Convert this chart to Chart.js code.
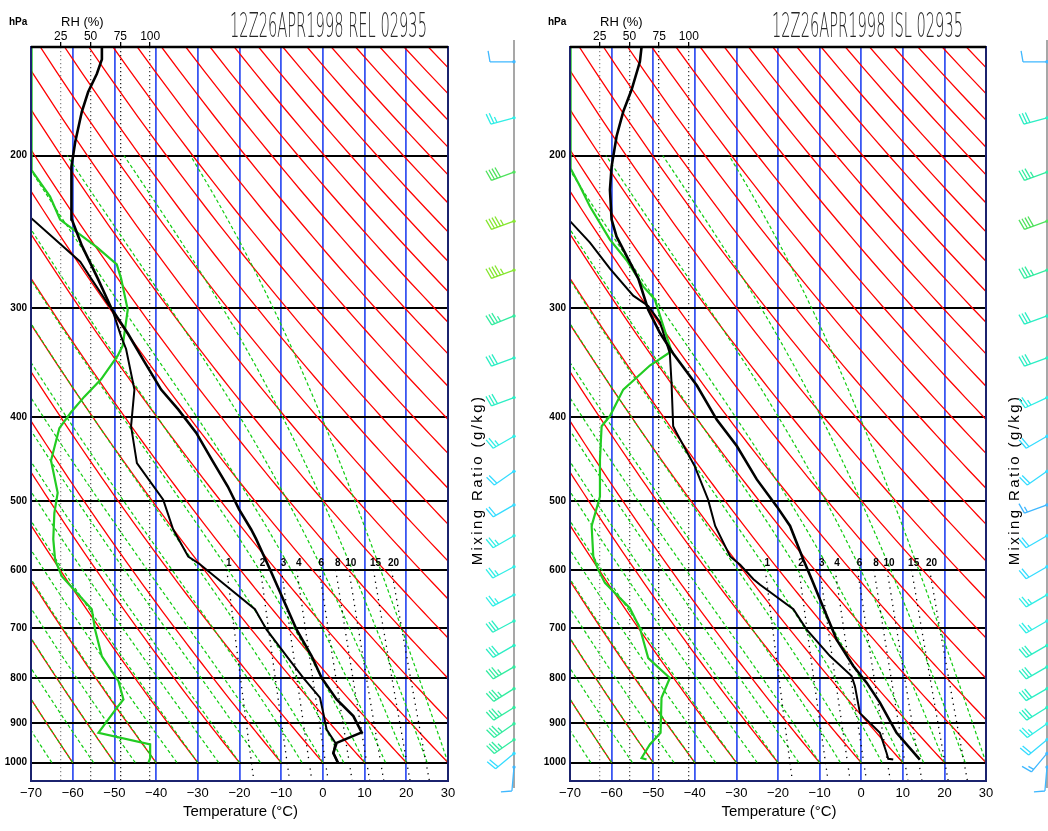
<!DOCTYPE html>
<html>
<head>
<meta charset="utf-8">
<script src="https://cdn.jsdelivr.net/npm/chart.js@4.4.1/dist/chart.umd.min.js"></script>
<style>
html, body { margin: 0; padding: 0; background: #fff; overflow: hidden; }
canvas { position: absolute; top: 0; }
#rel { left: 0; }
#isl { left: 524px; }
</style>
</head>
<body>
<canvas id="rel" width="524" height="831"></canvas>
<canvas id="isl" width="524" height="831"></canvas>
<script>
// axes
const tempTicks = [-70, -60, -50, -40, -30, -20, -10, 0, 10, 20, 30];
const pLevels = [1000, 900, 800, 700, 600, 500, 400, 300, 200];
const rhTicks = [25, 50, 75, 100];

// background line families
const dryThetaC = [-60, -50, -40, -30, -20, -10, 0, 10, 20, 30, 40, 50, 60, 70, 80, 90, 100, 110, 120, 130, 140, 150, 160, 170, 180, 190, 200, 210, 220, 230, 240];
const moistThetaW = [-65, -60, -55, -50, -45, -40, -35, -30, -25, -20, -15, -10, -5, 0, 5, 10, 15, 20, 25, 30];
const mixRatios = [1, 2, 3, 4, 6, 8, 10, 15, 20];

// REL sounding
const relTempP = [1000, 975, 949, 923, 884, 846, 799, 754, 703, 649, 599, 553, 539, 511, 481, 450, 417, 392, 372, 345, 321, 300, 277, 254, 237, 221, 206, 193, 178, 169, 161, 155, 150];
const relTemp = [3.6, 2.5, 3.3, 9.3, 7.3, 3.3, -0.3, -2.7, -6.3, -9.5, -12.7, -16.0, -17.2, -20.1, -22.8, -26.4, -30.4, -34.7, -38.8, -42.9, -46.7, -50.7, -54.0, -57.8, -60.2, -60.4, -60.2, -59.4, -57.8, -56.3, -54.2, -53.0, -53.0];
const relDewP = [1000, 975, 949, 916, 877, 842, 799, 754, 703, 666, 624, 591, 579, 539, 498, 452, 410, 372, 334, 323, 302, 277, 265, 236];
const relDew = [3.6, 2.5, 3.0, 0.9, 0.1, -0.7, -4.7, -8.7, -13.5, -16.3, -23.5, -29.5, -32.3, -35.9, -38.3, -44.6, -46.0, -45.2, -47.2, -48.4, -50.4, -55.6, -58.2, -70.0];
const relRhP = [1000, 988, 953, 924, 865, 846, 806, 754, 703, 666, 610, 584, 553, 516, 489, 449, 412, 395, 379, 362, 340, 331, 301, 277, 267, 255, 237, 223, 208, 150];
const relRh = [98.6, 100, 100, 56.6, 72, 77.6, 73.4, 59.4, 53.8, 51, 25.8, 20.2, 18.7, 19.6, 22.4, 16.8, 23.8, 33.6, 44.8, 58.8, 72.8, 77, 81.2, 75.6, 72, 55.2, 24.4, 16, 0.6, 0.5];

// ISL sounding
const islTempP = [992, 924, 853, 809, 774, 722, 649, 615, 584, 534, 507, 472, 432, 403, 368, 338, 320, 301, 277, 261, 248, 237, 219, 206, 190, 178, 168, 156, 150];
const islTemp = [14.1, 8.5, 4.5, 1.3, -1.9, -5.9, -9.9, -11.9, -13.9, -17.1, -20.3, -25.1, -29.9, -34.7, -39.5, -45.2, -48.4, -51.2, -53.6, -56.4, -58.8, -60.0, -60.4, -60.0, -58.8, -57.2, -55.2, -53.2, -52.8];
const islDewP = [992, 990, 975, 924, 877, 817, 795, 754, 703, 666, 624, 615, 592, 579, 534, 498, 456, 417, 410, 365, 338, 311, 298, 290, 270, 252, 238];
const islDew = [7.7, 6.5, 6.1, 4.5, -0.3, -1.5, -2.3, -7.5, -13.1, -16.3, -24.3, -25.9, -29.1, -31.5, -35.1, -36.8, -40.0, -44.4, -45.2, -45.6, -46.0, -48.4, -51.2, -54.8, -60.4, -65.2, -70.0];
const islRhP = [992, 988, 953, 924, 842, 799, 758, 700, 664, 621, 600, 579, 534, 494, 448, 410, 399, 372, 349, 336, 314, 293, 283, 264, 250, 229, 217, 207, 150];
const islRh = [64.4, 60.2, 67.2, 76.2, 77, 84, 65.8, 58.8, 50.4, 29.4, 23.8, 19.6, 18.2, 25.2, 25.2, 26.6, 33.6, 44.8, 67.2, 85.4, 78.4, 71.4, 61.6, 47.6, 33.6, 16.8, 8.4, 0.5, 0.5];

// winds (same levels for both)
const windP = [156, 181, 209, 238, 271, 306, 342, 380, 421, 462, 505, 548, 595, 641, 687, 733, 776, 822, 864, 902, 941, 976, 1012];
const relWindDir = [270, 255, 250, 250, 250, 248, 250, 250, 240, 235, 240, 240, 242, 242, 242, 240, 240, 238, 238, 235, 235, 230, 185];
const relWindKt = [10, 25, 40, 45, 45, 35, 30, 30, 25, 20, 20, 25, 25, 25, 30, 30, 35, 35, 35, 35, 35, 20, 10];
const islWindDir = [270, 255, 250, 250, 250, 250, 250, 245, 240, 235, 250, 240, 240, 240, 240, 240, 240, 240, 238, 235, 230, 220, 185];
const islWindKt = [10, 30, 35, 40, 35, 30, 30, 25, 20, 20, 15, 20, 20, 25, 25, 30, 30, 30, 30, 25, 20, 15, 10];

const FONT = '"Liberation Sans", Arial, sans-serif';
Chart.defaults.font.family = FONT;
const RH_MAX = 350;

function pts(ps, vs) {
    return ps.map((p, i) => ({ x: vs[i], y: p }));
}
function es(tc) {
    return 6.112 * Math.exp(17.67 * tc / (tc + 243.5));
}
function dryLine(thC) {
    const out = [];
    for (let p = 1000; p >= 150; p -= 10) {
        out.push({ x: (thC + 273.15) * Math.pow(p / 1000, 0.2857) - 273.15, y: p });
    }
    return out;
}
function moistLine(twC) {
    const Rd = 287.04, Cp = 1005.7, Lv = 2.501e6, eps = 0.622;
    const slope = (p, T) => {
        const e = es(T - 273.15);
        const rs = eps * e / (p - e);
        return (Rd * T + Lv * rs) / (p * (Cp + Lv * Lv * rs * eps / (Rd * T * T)));
    };
    let T = twC + 273.15;
    const out = [{ x: twC, y: 1000 }];
    const h = -2;
    for (let p = 1000; p > 200; p += h) {
        const k1 = slope(p, T);
        const k2 = slope(p + h / 2, T + h / 2 * k1);
        const k3 = slope(p + h / 2, T + h / 2 * k2);
        const k4 = slope(p + h, T + h * k3);
        T += h / 6 * (k1 + 2 * k2 + 2 * k3 + k4);
        if ((p + h) % 10 === 0) out.push({ x: T - 273.15, y: p + h });
    }
    return out;
}
function mixT(w, p) {
    const l = Math.log(w * p / (622 + w) / 6.112);
    return 243.5 * l / (17.67 - l);
}
function mixLine(w) {
    const out = [];
    for (let p = 600; p <= 1050; p += 25) out.push({ x: mixT(w, p), y: p });
    return out;
}
function barbColor(kt) {
    if (kt <= 15) return '#3fb8ff';
    if (kt <= 22) return '#35dcff';
    if (kt <= 27) return '#30eee6';
    if (kt <= 32) return '#2ceec4';
    if (kt <= 37) return '#33eca0';
    if (kt <= 42) return '#4ee25c';
    return '#86e630';
}
function drawBarb(ctx, x, y, dir, kt) {
    const r = dir * Math.PI / 180;
    const ux = Math.sin(r), uy = -Math.cos(r);
    const L = 24;
    const tx = x + ux * L, ty = y + uy * L;
    const a = 80 * Math.PI / 180;
    const fx = ux * Math.cos(a) - uy * Math.sin(a);
    const fy = ux * Math.sin(a) + uy * Math.cos(a);
    const color = barbColor(kt);
    ctx.strokeStyle = color;
    ctx.lineWidth = 1.3;
    ctx.beginPath();
    ctx.moveTo(x, y);
    ctx.lineTo(tx, ty);
    const n = Math.round(kt / 5);
    const full = Math.floor(n / 2);
    let pos = 0;
    for (let i = 0; i < full; i++) {
        const bx = tx - ux * pos, by = ty - uy * pos;
        ctx.moveTo(bx, by);
        ctx.lineTo(bx + fx * 11, by + fy * 11);
        pos += 3.2;
    }
    if (n % 2) {
        if (full === 0) pos = 3.2;
        const bx = tx - ux * pos, by = ty - uy * pos;
        ctx.moveTo(bx, by);
        ctx.lineTo(bx + fx * 6, by + fy * 6);
    }
    ctx.stroke();
    ctx.fillStyle = color;
    ctx.beginPath();
    ctx.arc(x, y, 1.7, 0, 2 * Math.PI);
    ctx.fill();
}

function buildPanel(id, s) {
    const datasets = [];
    const base = { pointRadius: 0, tension: 0, fill: false, clip: 0 };
    datasets.push({ ...base, data: pts(s.tempP, s.temp), borderColor: '#000', borderWidth: 2.6, order: 0 });
    datasets.push({ ...base, data: pts(s.dewP, s.dew), borderColor: '#000', borderWidth: 2, order: 0 });
    datasets.push({ ...base, data: pts(s.rhP, s.rh), xAxisID: 'xrh', borderColor: '#22cc22', borderWidth: 2.2, order: 0 });
    mixRatios.forEach(w => datasets.push({ ...base, data: mixLine(w), borderColor: '#000', borderWidth: 1.3, borderDash: [1.3, 4.6], order: 1 }));
    moistThetaW.forEach(t => datasets.push({ ...base, data: moistLine(t), borderColor: '#11cc11', borderWidth: 1.2, borderDash: [3.5, 2.5], order: 2 }));
    dryThetaC.forEach(t => datasets.push({ ...base, data: dryLine(t), borderColor: '#ff0000', borderWidth: 1.3, order: 3 }));

    const overlay = {
        id: 'overlay',
        afterDraw(chart) {
            const ctx = chart.ctx;
            const area = chart.chartArea;
            const xs = chart.scales.x, ys = chart.scales.y, rs = chart.scales.xrh;
            ctx.save();
            // frame
            ctx.strokeStyle = '#1b236e';
            ctx.lineWidth = 2;
            ctx.strokeRect(area.left, area.top, area.right - area.left, area.bottom - area.top);
            ctx.strokeStyle = '#000';
            ctx.lineWidth = 2.5;
            ctx.beginPath();
            ctx.moveTo(area.left, area.top);
            ctx.lineTo(area.right, area.top);
            ctx.stroke();

            // mixing ratio labels
            ctx.fillStyle = '#000';
            ctx.font = 'bold 10px ' + FONT;
            ctx.textAlign = 'center';
            ctx.textBaseline = 'alphabetic';
            mixRatios.forEach(w => {
                ctx.fillText(String(w), xs.getPixelForValue(mixT(w, 600)) + 2, ys.getPixelForValue(600) - 4);
            });

            // RH scale labels
            ctx.font = '12px ' + FONT;
            rhTicks.forEach(v => ctx.fillText(String(v), rs.getPixelForValue(v), 40));

            // small texts
            ctx.textAlign = 'left';
            ctx.font = 'bold 10px ' + FONT;
            ctx.fillText('hPa', area.left - 22, 25);
            ctx.font = '13px ' + FONT;
            ctx.fillText('RH (%)', area.left + 30, 26);
            ctx.textAlign = 'center';
            ctx.font = '15px ' + FONT;
            ctx.fillText('Temperature (\u00B0C)', (area.left + area.right) / 2 + 1, 816);

            // title
            ctx.save();
            ctx.font = '200 34px "DejaVu Sans", ' + FONT;
            ctx.fillStyle = '#262626';
            ctx.textAlign = 'left';
            const tw = ctx.measureText(s.title).width;
            ctx.translate(s.titleX, 37);
            ctx.scale(s.titleW / tw, 1);
            ctx.fillText(s.title, 0, 0);
            ctx.restore();

            // side label
            ctx.save();
            ctx.translate(s.mixTextX, 480);
            ctx.rotate(-Math.PI / 2);
            ctx.font = '15px ' + FONT;
            ctx.letterSpacing = '2.4px';
            ctx.textAlign = 'center';
            ctx.textBaseline = 'middle';
            ctx.fillStyle = '#000';
            ctx.fillText('Mixing Ratio (g/kg)', 0, 0);
            ctx.restore();

            // wind barbs
            ctx.strokeStyle = '#8a8a8a';
            ctx.lineWidth = 1.5;
            ctx.beginPath();
            ctx.moveTo(s.barbX, 40);
            ctx.lineTo(s.barbX, 788);
            ctx.stroke();
            windP.forEach((p, i) => drawBarb(ctx, s.barbX, ys.getPixelForValue(p), s.windDir[i], s.windKt[i]));
            ctx.restore();
        }
    };

    return new Chart(document.getElementById(id), {
        type: 'line',
        data: { datasets: datasets },
        options: {
            responsive: false,
            animation: false,
            devicePixelRatio: 1,
            events: [],
            layout: { padding: { left: 0, right: s.padRight, top: 0, bottom: 0 } },
            plugins: { legend: { display: false }, tooltip: { enabled: false } },
            scales: {
                x: {
                    type: 'linear',
                    position: 'bottom',
                    min: -70,
                    max: 30,
                    afterBuildTicks: a => { a.ticks = tempTicks.map(v => ({ value: v })); },
                    ticks: {
                        color: '#000',
                        font: { size: 13 },
                        padding: 5,
                        maxRotation: 0,
                        autoSkip: false,
                        callback: v => String(v).replace('-', '\u2212')
                    },
                    grid: {
                        color: c => (c.tick && (c.tick.value === -70 || c.tick.value === 30)) ? 'rgba(0,0,0,0)' : '#3a56f2',
                        lineWidth: 1.8,
                        drawTicks: false
                    },
                    border: { display: false },
                    afterFit: a => { a.height = 50; a.paddingLeft = 0; a.paddingRight = 0; }
                },
                xrh: {
                    type: 'linear',
                    position: 'top',
                    min: 0,
                    max: RH_MAX,
                    afterBuildTicks: a => { a.ticks = rhTicks.map(v => ({ value: v })); },
                    ticks: { display: false },
                    grid: {
                        color: c => ({ 25: '#8a8a8a', 50: '#555', 75: '#222', 100: '#444' })[c.tick ? c.tick.value : 0] || '#555',
                        lineWidth: 1.3,
                        drawTicks: true,
                        tickLength: 5,
                        tickColor: '#000'
                    },
                    border: { display: false, dash: [1.2, 2.8] },
                    afterFit: a => { a.height = 47; a.paddingLeft = 0; a.paddingRight = 0; }
                },
                y: {
                    type: 'logarithmic',
                    position: 'left',
                    reverse: true,
                    min: 150,
                    max: 1050,
                    afterBuildTicks: a => { a.ticks = pLevels.map(v => ({ value: v })); },
                    ticks: { color: '#000', font: { size: 10, weight: 'bold' }, padding: 4, callback: v => String(v) },
                    grid: { color: '#000', lineWidth: 2, drawTicks: false },
                    border: { display: false },
                    afterFit: a => { a.width = s.left; a.paddingTop = 0; a.paddingBottom = 0; }
                }
            }
        },
        plugins: [overlay]
    });
}

buildPanel('rel', {
    title: '12Z26APR1998 REL 02935', titleX: 230, titleW: 197,
    left: 31, padRight: 76, barbX: 514, mixTextX: 478,
    tempP: relTempP, temp: relTemp, dewP: relDewP, dew: relDew, rhP: relRhP, rh: relRh,
    windDir: relWindDir, windKt: relWindKt
});
buildPanel('isl', {
    title: '12Z26APR1998 ISL 02935', titleX: 248, titleW: 191,
    left: 46, padRight: 62, barbX: 523, mixTextX: 491,
    tempP: islTempP, temp: islTemp, dewP: islDewP, dew: islDew, rhP: islRhP, rh: islRh,
    windDir: islWindDir, windKt: islWindKt
});
</script>
</body>
</html>
